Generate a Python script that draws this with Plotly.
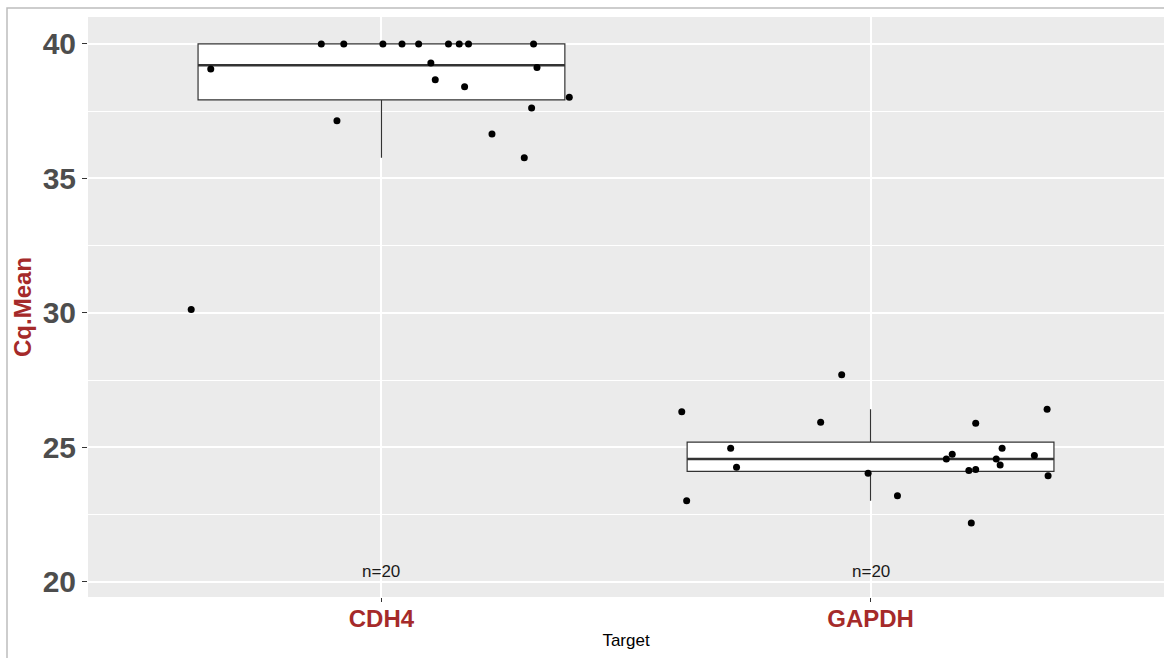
import numpy as np
import plotly.graph_objects as go

# Cq.Mean per target with the horizontal jitter offset of each point
targets = ["CDH4", "GAPDH"]
cdh4_cq = [39.07, 40.0, 40.0, 40.0, 40.0, 40.0, 40.0, 40.0, 40.0, 40.0,
           39.29, 38.67, 38.41, 39.12, 38.02, 37.62, 37.14, 36.65, 35.77, 30.12]
cdh4_jitter = [-0.349, -0.123, -0.077, 0.003, 0.042, 0.076, 0.137, 0.159, 0.178, 0.311,
               0.101, 0.110, 0.170, 0.318, 0.384, 0.307, -0.091, 0.226, 0.292, -0.389]
gapdh_cq = [27.70, 26.32, 26.41, 25.93, 25.89, 24.96, 24.96, 24.74, 24.56, 24.56,
            24.69, 24.34, 24.26, 24.13, 24.17, 24.03, 23.94, 23.20, 23.01, 22.18]
gapdh_jitter = [-0.059, -0.386, 0.361, -0.102, 0.215, -0.286, 0.269, 0.167, 0.155, 0.257,
                0.335, 0.265, -0.274, 0.201, 0.215, -0.005, 0.363, 0.055, -0.376, 0.206]
y_ticks = [20, 25, 30, 35, 40]
count_label_y = 20

series = [(cdh4_cq, cdh4_jitter), (gapdh_cq, gapdh_jitter)]
box_width = 0.75
line_col = "#333333"
brown = "#A52A2A"

fig = go.Figure()

for pos, (vals, jit) in enumerate(series):
    v = np.asarray(vals, dtype=float)
    q1, med, q3 = np.percentile(v, [25, 50, 75])
    iqr = q3 - q1
    lo = v[v >= q1 - 1.5 * iqr].min()
    hi = v[v <= q3 + 1.5 * iqr].max()
    fig.add_trace(go.Box(
        x=[pos], q1=[q1], median=[med], q3=[q3], lowerfence=[lo], upperfence=[hi],
        width=box_width, whiskerwidth=0, boxpoints=False,
        fillcolor="white", line=dict(color=line_col, width=1.2),
        showlegend=False, hoverinfo="skip",
    ))
    # heavier median bar, as in ggplot
    fig.add_trace(go.Scatter(
        x=[pos - box_width / 2, pos + box_width / 2], y=[med, med],
        mode="lines", line=dict(color=line_col, width=2.4),
        showlegend=False, hoverinfo="skip",
    ))
    fig.add_trace(go.Scatter(
        x=[pos + j for j in jit], y=vals, mode="markers",
        marker=dict(color="black", size=7),
        showlegend=False,
    ))
    fig.add_annotation(
        x=pos, y=count_label_y, text=f"n={len(vals)}", showarrow=False,
        yanchor="bottom", yshift=-1,
        font=dict(family="Liberation Sans, Arial, sans-serif", size=17, color="#1a1a1a"),
    )

fig.update_layout(
    width=1164, height=658,
    margin=dict(l=88, r=0, t=17, b=61),
    paper_bgcolor="white", plot_bgcolor="#EBEBEB",
    font=dict(family="Liberation Sans, Arial, sans-serif"),
    xaxis=dict(
        range=[-0.6, 1.6], tickvals=list(range(len(targets))), ticktext=targets,
        showgrid=True, gridcolor="white", gridwidth=1.6, zeroline=False,
        ticks="outside", ticklen=4, tickcolor=line_col, tickwidth=1,
        ticklabelstandoff=-4,
        tickfont=dict(size=24, color=brown, weight="bold"),
        title=dict(text="Target", font=dict(size=17, color="black"), standoff=3),
        showline=False,
    ),
    yaxis=dict(
        range=[19.43, 41.0], tickvals=y_ticks,
        showgrid=True, gridcolor="white", gridwidth=1.6, zeroline=False,
        minor=dict(dtick=2.5, tick0=20, showgrid=True, gridcolor="white", gridwidth=0.8),
        ticks="outside", ticklen=5, tickcolor=line_col, tickwidth=1,
        tickfont=dict(size=30, color="#4D4D4D", weight="bold"),
        title=dict(text="Cq.Mean", font=dict(size=24, color=brown, weight="bold"), standoff=4),
        showline=False,
    ),
    shapes=[dict(
        type="rect", xref="paper", yref="paper",
        x0=(7 - 88) / 1076, x1=1.05, y0=-0.3, y1=1 + 9 / 580,
        line=dict(color="#BDBDBD", width=1.5), fillcolor="rgba(0,0,0,0)", layer="below",
    )],
)

fig.write_html("out.html")
